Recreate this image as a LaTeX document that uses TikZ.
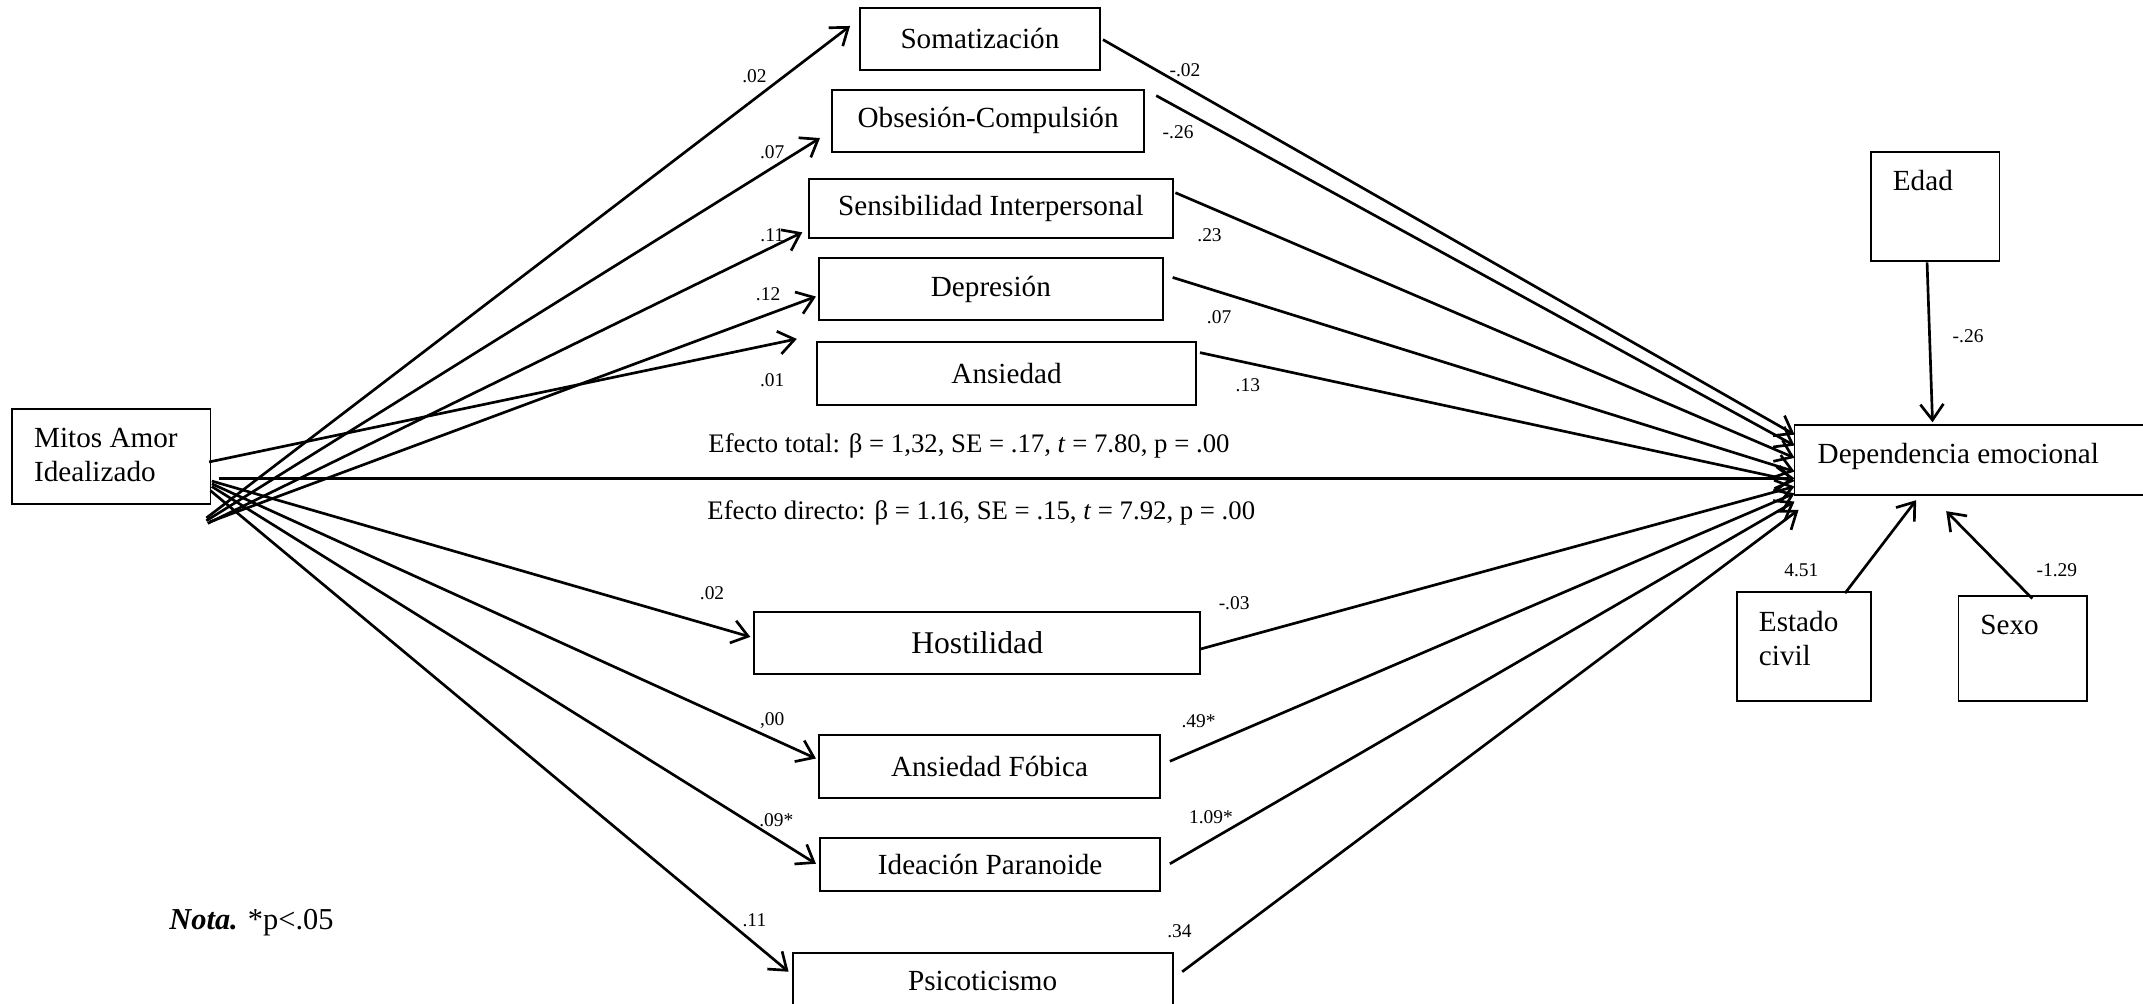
\documentclass[tikz,border=0pt]{standalone}
\usepackage{fontspec}
\setmainfont{Liberation Serif}
\usetikzlibrary{arrows.meta}

\tikzset{
  box/.style 2 args={draw, line width=0.8pt, inner sep=0pt, minimum width=#1*0.562pt, minimum height=#2*0.562pt, font=\fontsize{12}{14}\selectfont},
  coef/.style={inner sep=0pt, font=\fontsize{8}{9}\selectfont},
  link/.style={line width=1.1pt, -{Straight Barb[length=6.5pt,width=9.5pt]}},
}

\begin{document}
\begin{tikzpicture}[x=0.562pt,y=-0.562pt,link]
\useasboundingbox (0,0) rectangle (1568,734);

% boxes
\node[box={145}{70}] (mitos) at (81.5,334) {};
\node[inner sep=0pt, anchor=north west, align=left, font=\fontsize{12}{14.2}\selectfont] (mitosT) at (24,312) {Mitos Amor\\Idealizado};
\node[box={176}{45}] (soma) at (717,28.5) {Somatización};
\node[box={228}{45}] (obse) at (723,88.5) {Obsesión-Compulsión};
\node[box={266}{43}] (sens) at (725,152.5) {Sensibilidad Interpersonal};
\node[box={252}{45}] (depr) at (725,211.5) {Depresión};
\node[box={277}{46}] (ansi) at (736.5,273) {Ansiedad};
\node[box={326}{45}, font=\fontsize{13}{15}\selectfont] (host) at (715,470.5) {Hostilidad};
\node[box={250}{46}] (fobi) at (724,561) {Ansiedad Fóbica};
\node[box={249}{39}] (para) at (724.5,632.5) {Ideación Paranoide};
\node[box={278}{41}] (psic) at (719,717.5) {Psicoticismo};
\node[box={277}{51}] (depe) at (1451.5,336.5) {};
\node[inner sep=0pt, anchor=west, font=\fontsize{12}{14}\selectfont] (depeT) at (1329,334) {Dependencia emocional};
\node[box={94}{80}] (edad) at (1416,151) {};
\node[inner sep=0pt, anchor=west, font=\fontsize{12}{14}\selectfont] (edadT) at (1384,132) {Edad};
\node[box={98}{80}] (esta) at (1320,473) {};
\node[inner sep=0pt, anchor=north west, align=left, font=\fontsize{12}{14.2}\selectfont] (estaT) at (1286,446) {Estado\\civil};
\node[box={94}{77}] (sexo) at (1480,474.5) {};
\node[inner sep=0pt, anchor=west, font=\fontsize{12}{14}\selectfont] (sexoT) at (1448,457) {Sexo};

% end points
\coordinate (mSoma) at (151,379);
\coordinate (mObse) at (151,381);
\coordinate (mSens) at (152,383);
\coordinate (mDepr) at (153,382);
\coordinate (mAnsi) at (153,338);
\coordinate (mDir) at (160,350);
\coordinate (mHost) at (155,352);
\coordinate (mFobi) at (155,354);
\coordinate (mPara) at (155,356);
\coordinate (mPsic) at (154,359);

\coordinate (somaIn) at (622,19);
\coordinate (obseIn) at (600,101);
\coordinate (sensIn) at (587,170);
\coordinate (deprIn) at (597,217);
\coordinate (ansiIn) at (583,248);
\coordinate (hostIn) at (549,466);
\coordinate (fobiIn) at (597,555);
\coordinate (paraIn) at (597,632);
\coordinate (psicIn) at (577,711);

\coordinate (somaOut) at (807,29);
\coordinate (obseOut) at (846,70);
\coordinate (sensOut) at (860,141);
\coordinate (deprOut) at (858,203);
\coordinate (ansiOut) at (878,258);
\coordinate (hostOut) at (878,475);
\coordinate (fobiOut) at (856,557);
\coordinate (paraOut) at (856,632);
\coordinate (psicOut) at (865,711);

\coordinate (dSoma) at (1313,318);
\coordinate (dObse) at (1313,326);
\coordinate (dSens) at (1313,335);
\coordinate (dDepr) at (1313,345);
\coordinate (dAnsi) at (1313,352);
\coordinate (dDir) at (1313,350);
\coordinate (dHost) at (1313,356);
\coordinate (dFobi) at (1313,361);
\coordinate (dPara) at (1313,367);
\coordinate (dPsic) at (1316,373);

\coordinate (edadOut) at (1410,192);
\coordinate (dEdad) at (1414,309);
\coordinate (estaOut) at (1350,434);
\coordinate (dEsta) at (1402,366);
\coordinate (sexoOut) at (1487,438);
\coordinate (dSexo) at (1424,374);

% a paths
\draw (mSoma) -- (somaIn);
\draw (mObse) -- (obseIn);
\draw (mSens) -- (sensIn);
\draw (mDepr) -- (deprIn);
\draw (mAnsi) -- (ansiIn);
\draw (mHost) -- (hostIn);
\draw (mFobi) -- (fobiIn);
\draw (mPara) -- (paraIn);
\draw (mPsic) -- (psicIn);

% b paths
\draw (somaOut) -- (dSoma);
\draw (obseOut) -- (dObse);
\draw (sensOut) -- (dSens);
\draw (deprOut) -- (dDepr);
\draw (ansiOut) -- (dAnsi);
\draw (hostOut) -- (dHost);
\draw (fobiOut) -- (dFobi);
\draw (paraOut) -- (dPara);
\draw (psicOut) -- (dPsic);

% direct path and covariates
\draw (mDir) -- (dDir);
\draw (edadOut) -- (dEdad);
\draw (estaOut) -- (dEsta);
\draw (sexoOut) -- (dSexo);

% coefficients
\node[coef] (aSoma) at (552,56) {.02};
\node[coef] (aObse) at (565,111) {.07};
\node[coef] (aSens) at (565,172) {.11};
\node[coef] (aDepr) at (562,215) {.12};
\node[coef] (aAnsi) at (565,278) {.01};
\node[coef] (aHost) at (521,434) {.02};
\node[coef] (aFobi) at (565,527) {,00};
\node[coef] (aPara) at (568,600) {.09*};
\node[coef] (aPsic) at (552,673) {.11};
\node[coef] (bSoma) at (867,51) {-.02};
\node[coef] (bObse) at (862,97) {-.26};
\node[coef] (bSens) at (885,172) {.23};
\node[coef] (bDepr) at (892,232) {.07};
\node[coef] (bAnsi) at (913,282) {.13};
\node[coef] (bHost) at (903,441) {-.03};
\node[coef] (bFobi) at (877,528) {.49*};
\node[coef] (bPara) at (886,598) {1.09*};
\node[coef] (bPsic) at (863,681) {.34};
\node[coef] (cEdad) at (1440,246) {-.26};
\node[coef] (cEsta) at (1318,417) {4.51};
\node[coef] (cSexo) at (1505,417) {-1.29};

\node[font=\fontsize{11}{13}\selectfont] (total) at (709,326) {Efecto total: β = 1,32, SE = .17, \textit{t} = 7.80, p = .00};
\node[font=\fontsize{11}{13}\selectfont] (direct) at (718,375) {Efecto directo: β = 1.16, SE = .15, \textit{t} = 7.92, p = .00};
\node[inner sep=0pt, anchor=west, font=\fontsize{12.5}{15}\selectfont] (nota) at (123,675) {\textbf{\textit{Nota.}} *p<.05};
\end{tikzpicture}
\end{document}
